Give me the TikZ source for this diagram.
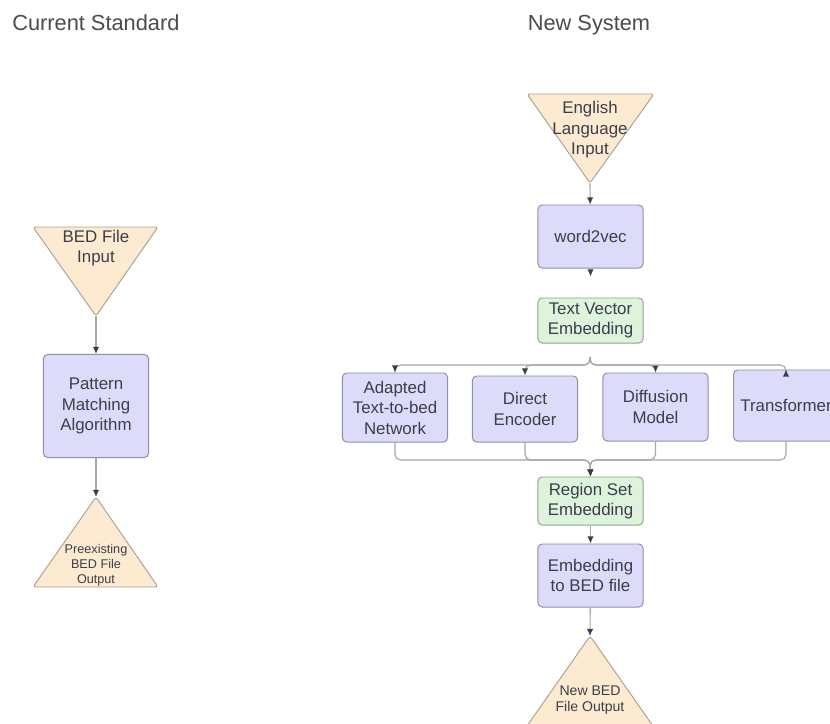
\documentclass[tikz,border=0pt]{standalone}
\usepackage{fontspec}
\setmainfont{Liberation Sans}
\usetikzlibrary{arrows.meta}

\definecolor{trifill}{HTML}{FCEBD0}
\definecolor{tridraw}{HTML}{ABA397}
\definecolor{bluefill}{HTML}{DCDCFA}
\definecolor{bluedraw}{HTML}{8E8FA6}
\definecolor{greenfill}{HTML}{DDF3DC}
\definecolor{greendraw}{HTML}{90A48F}
\definecolor{linecol}{HTML}{A6A6A6}
\definecolor{tipcol}{HTML}{3B3F4C}
\definecolor{txtcol}{HTML}{3D3D4B}
\definecolor{titlecol}{HTML}{4B4B4B}

\begin{document}
\begin{tikzpicture}[
    x=0.025cm, y=-0.025cm,
    >={Latex[length=5pt,width=4.5pt,color=tipcol]},
    txt/.style={text=txtcol,font=\fontsize{12}{14.6}\selectfont,align=center,inner sep=0},
    box/.style={txt,draw=bluedraw,fill=bluefill,rounded corners=3pt,line width=0.7pt,minimum width=2.625cm},
    emb/.style={box,draw=greendraw,fill=greenfill},
    tri/.style={draw=tridraw,fill=trifill,line width=0.7pt,rounded corners=2pt},
    flow/.style={->,draw=linecol,line width=0.8pt,rounded corners=4pt},
    title/.style={text=titlecol,font=\fontsize{15.5}{18}\selectfont,inner sep=0}
    ]
    \useasboundingbox (0,0) rectangle (830,724);
    \clip (0,0) rectangle (830,724);

    % titles
    \node[title,anchor=base west] (cur) at (12,30) {Current Standard};
    \node[title,anchor=base] (new) at (589,30) {New System};

    % triangles
    \draw[tri] (33,227) -- (158,227) -- (96,316) coordinate (bin-tip) -- cycle;
    \draw[tri] (96,497) coordinate (pbo-tip) -- (158,587) -- (33,587) -- cycle;
    \draw[tri] (527,94) -- (654,94) -- (590,183) coordinate (eli-tip) -- cycle;
    \draw[tri] (590,636) coordinate (nbo-tip) -- (653,726) -- (527,726) -- cycle;

    % triangle texts
    \node[txt] (bin) at (96,248) {BED File\\Input};
    \node[txt,font=\fontsize{9}{10.7}\selectfont] (pbo) at (96,565) {Preexisting\\BED File\\Output};
    \node[txt] (eli) at (590,130) {English\\Language\\Input};
    \node[txt,font=\fontsize{10}{11.4}\selectfont] (nbo) at (590,700) {New BED\\File Output};

    % boxes
    \node[box,minimum height=2.575cm] (pma) at (96,406) {Pattern\\Matching\\Algorithm};
    \node[box,minimum height=1.575cm] (wv) at (590.5,236.5) {word2vec};
    \node[emb,minimum height=1.125cm] (tve) at (590.5,320.5) {Text Vector\\Embedding};
    \node[box,minimum height=1.725cm] (ad) at (395,407.5) {Adapted\\Text-to-bed\\Network};
    \node[box,minimum height=1.65cm] (de) at (525,409) {Direct\\Encoder};
    \node[box,minimum height=1.7cm] (dm) at (655.5,407) {Diffusion\\Model};
    \node[box,minimum height=1.775cm] (tr) at (786,405.5) {Transformer};
    \node[emb,minimum height=1.2cm] (rse) at (590.5,501) {Region Set\\Embedding};
    \node[box,minimum height=1.575cm] (ebf) at (590.5,575.5) {Embedding\\to BED file};

    % split and join points
    \coordinate (split) at (590,357);
    \coordinate (fork) at (590,365);
    \coordinate (join) at (590,460);

    % arrows
    \draw[flow] (bin-tip) -- (pma);
    \draw[flow] (pma) -- (pbo-tip);
    \draw[flow] (eli-tip) -- (wv);
    \draw[flow,shorten >=0.525cm] (wv) -- (tve);
    \foreach \b in {ad,de,dm,tr}
      \draw[flow] (split) -- (fork) -| (\b.north);
    \foreach \b in {ad,de,dm,tr}
      \draw[flow] (\b.south) |- (join) -- (rse.north);
    \draw[flow] (rse) -- (ebf);
    \draw[flow] (ebf) -- (nbo-tip);
  \end{tikzpicture}
\end{document}
